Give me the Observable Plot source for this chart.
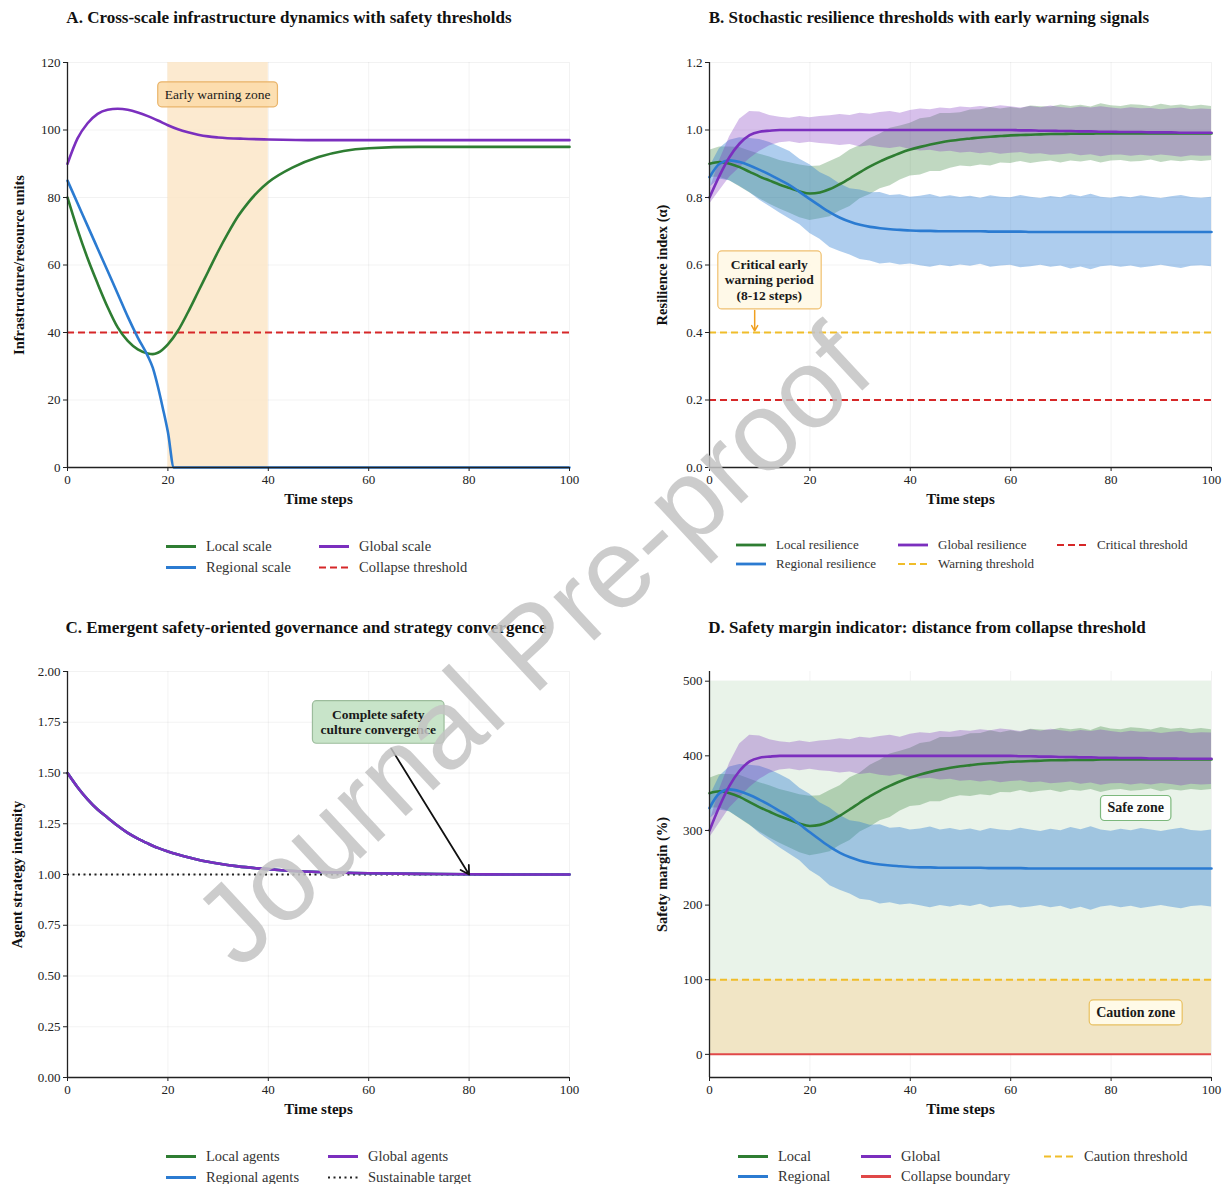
<!DOCTYPE html>
<html><head><meta charset="utf-8">
<script src="https://cdn.jsdelivr.net/npm/d3@7"></script>
<script src="https://cdn.jsdelivr.net/npm/@observablehq/plot@0.6"></script>
<style>
body{margin:0;background:#fff;font-family:"Liberation Serif","Times New Roman",serif;}
#root{position:relative;width:1230px;height:1184px;overflow:hidden;background:#fff;}
.panel{position:absolute;}
.title{position:absolute;font-weight:bold;font-size:17px;white-space:nowrap;transform:translate(-50%,-50%);color:#111;}
.lg{position:absolute;display:flex;align-items:center;white-space:nowrap;transform:translateY(-50%);color:#333;}
.lg svg{margin-right:9px;}
.wm{position:absolute;left:532px;top:645px;transform:translate(-50%,-50%) rotate(-43deg);font-family:"Liberation Sans",Arial,sans-serif;font-size:113px;color:rgba(195,195,195,0.85);white-space:nowrap;pointer-events:none;}
</style></head><body><div id="root"></div>
<script>
const FONT = "Liberation Serif, Times New Roman, serif";
const X_TICKS = [0, 20, 40, 60, 80, 100];
const C = {local:"#2e7d32", regional:"#2b7bd1", global:"#7b2fbe", red:"#d62728", yellow:"#f0bd2a", collapse:"#e04848"};

// ---------- Panel A data ----------
const aLocalX = [0,2,4,6,8,10,12,14,16,17,18,20,22,24,26,28,30,32,34,36,38,40,45,50,55,60,70,80,90,100];
const aLocal  = [80,70.5,62,54.5,47.5,41.5,37.5,35,33.8,33.6,34,36.5,40.5,46,52,58,64,69.5,74.5,78.5,81.8,84.5,89,92,93.8,94.6,95,95,95,95];
const aRegionalX = [0,2,4,6,8,10,12,14,16,17,18,19,20,21.2,22,40,60,80,100];
const aRegional  = [85,78.3,71.6,64.9,58.2,51.5,44.7,38.5,33,29.5,24,17.5,10.5,0,0,0,0,0,0];
const aGlobalX = [0,2,4,6,8,10,12,14,16,18,20,22,24,26,28,30,35,40,50,100];
const aGlobal  = [90,97.5,102,104.8,106,106.3,106,105.2,104.1,102.8,101.4,100.2,99.3,98.6,98.1,97.8,97.4,97.2,97,97];
const aCollapse = 40;
const aWarnZone = [20, 40];

// ---------- Panel B data (resilience, x = 0..100 step 2) ----------
const bX = [0,2,4,6,8,10,12,14,16,18,20,22,24,26,28,30,32,34,36,38,40,42,44,46,48,50,52,54,56,58,60,62,64,66,68,70,72,74,76,78,80,82,84,86,88,90,92,94,96,98,100];
const bLocal = [0.900,0.905,0.900,0.890,0.876,0.862,0.850,0.838,0.828,0.818,0.812,0.815,0.825,0.840,0.857,0.875,0.892,0.907,0.920,0.932,0.942,0.950,0.957,0.963,0.968,0.972,0.975,0.978,0.980,0.982,0.984,0.985,0.986,0.987,0.988,0.988,0.989,0.989,0.989,0.990,0.990,0.990,0.990,0.990,0.990,0.990,0.990,0.990,0.990,0.990,0.990];
const bRegional = [0.860,0.900,0.910,0.905,0.895,0.882,0.868,0.852,0.836,0.816,0.795,0.775,0.756,0.740,0.728,0.719,0.713,0.709,0.706,0.704,0.702,0.701,0.701,0.700,0.700,0.700,0.700,0.700,0.699,0.699,0.699,0.699,0.698,0.698,0.698,0.698,0.698,0.698,0.698,0.698,0.698,0.698,0.698,0.698,0.698,0.698,0.698,0.698,0.698,0.698,0.698];
const bGlobal = [0.800,0.865,0.920,0.960,0.985,0.995,0.998,1,1,1,1,1,1,1,1,1,1,1,1,1,1,1,1,1,1,1,1,1,1,1,1,0.999,0.999,0.998,0.998,0.997,0.997,0.996,0.996,0.995,0.995,0.994,0.994,0.994,0.993,0.993,0.993,0.992,0.992,0.992,0.992];
const bLocalSpread = [0.040,0.045,0.050,0.058,0.062,0.066,0.070,0.072,0.075,0.078,0.080,0.078,0.082,0.080,0.084,0.079,0.083,0.081,0.085,0.080,0.078,0.083,0.080,0.086,0.081,0.079,0.084,0.082,0.087,0.080,0.083,0.078,0.085,0.082,0.080,0.086,0.081,0.084,0.079,0.088,0.082,0.080,0.085,0.083,0.079,0.086,0.081,0.084,0.080,0.083,0.080];
const bRegionalSpread = [0.030,0.045,0.060,0.072,0.080,0.090,0.095,0.098,0.100,0.097,0.102,0.099,0.104,0.100,0.098,0.103,0.101,0.106,0.100,0.104,0.099,0.103,0.108,0.101,0.105,0.100,0.104,0.098,0.106,0.102,0.100,0.107,0.103,0.099,0.105,0.101,0.110,0.104,0.112,0.103,0.100,0.105,0.101,0.107,0.103,0.099,0.104,0.108,0.102,0.100,0.103];
const bGlobalSpread = [0.020,0.045,0.060,0.072,0.070,0.058,0.045,0.038,0.035,0.040,0.036,0.040,0.042,0.046,0.043,0.050,0.047,0.052,0.055,0.050,0.058,0.062,0.060,0.065,0.063,0.068,0.066,0.070,0.067,0.072,0.069,0.066,0.071,0.068,0.073,0.070,0.067,0.072,0.069,0.074,0.070,0.068,0.072,0.069,0.071,0.067,0.070,0.073,0.068,0.070,0.069];
const bCritical = 0.2;
const bWarning = 0.4;

// ---------- Panel C data ----------
const cX = [0,2,4,6,8,10,12,14,16,18,20,22,24,26,28,30,34,38,42,46,50,60,70,80,90,100];
const cGlobal = [1.50,1.43,1.37,1.32,1.28,1.24,1.205,1.177,1.153,1.131,1.113,1.098,1.085,1.073,1.063,1.054,1.040,1.030,1.022,1.016,1.012,1.006,1.003,1.001,1.000,1.000];
const cLocal = cGlobal;     // overlaps global agents
const cRegional = cGlobal;  // overlaps global agents
const cTarget = 1.0;

// ---------- Panel D: safety margin (%) above collapse threshold ----------
const margin = r => (r - bCritical) / bCritical * 100;
const dCaution = 100, dCollapse = 0, dSafeTop = 500;

// ---------- helpers ----------
const pts = (xs, ys) => xs.map((x, i) => ({x, y: ys[i]}));
const band = (xs, m, s, f = v => v) => xs.map((x, i) => ({x, y: f(m[i]), lo: f(m[i] - s[i]), hi: f(m[i] + s[i])}));
const root = document.getElementById("root");

function makePanel(cfg) {
  const plot = Plot.plot({
    width: cfg.width, height: cfg.height,
    marginLeft: cfg.ml, marginRight: cfg.mr, marginTop: cfg.mt, marginBottom: cfg.mb,
    style: {fontFamily: FONT, fontSize: "13px", color: "#222", background: "transparent", overflow: "visible"},
    x: {domain: [0, 100]},
    y: {domain: cfg.yDomain},
    marks: [
      Plot.gridX(X_TICKS, {stroke: "#000", strokeOpacity: 0.05}),
      Plot.gridY(cfg.yTicks, {stroke: "#000", strokeOpacity: 0.05}),
      ...cfg.marks,
      Plot.axisX(X_TICKS, {tickSize: 4, tickPadding: 3, label: null, fontSize: 13}),
      Plot.axisY(cfg.yTicks, {tickSize: 4, tickPadding: 3, label: null, tickFormat: cfg.yFormat, fontSize: 13}),
      Plot.ruleX([0], {stroke: "#222", strokeWidth: 1.3}),
      Plot.ruleY([cfg.yDomain[0]], {stroke: "#222", strokeWidth: 1.3}),
      Plot.text(["Time steps"], {frameAnchor: "bottom", dy: 36, text: d => d, fontWeight: "bold", fontSize: 15, fill: "#111"}),
      Plot.text([cfg.yLabel], {frameAnchor: "left", textAnchor: "middle", dx: cfg.yLabelDx, rotate: -90, text: d => d, fontWeight: "bold", fontSize: 14.5, fill: "#111"})
    ]
  });
  const div = document.createElement("div");
  div.className = "panel";
  div.style.left = cfg.left + "px"; div.style.top = cfg.top + "px";
  div.appendChild(plot);
  root.appendChild(div);
  return plot;
}

function addBox(plot, b) {
  const px = plot.scale("x").apply(b.x), py = plot.scale("y").apply(b.y);
  const g = d3.select(plot).append("g");
  const fs = b.fontSize || 12, lh = fs * 1.15, n = b.lines.length;
  const t = g.append("text").attr("text-anchor", "middle").attr("font-size", fs)
    .attr("font-weight", b.bold ? "bold" : "normal").attr("fill", "#1a1a1a").attr("font-family", FONT);
  b.lines.forEach((l, i) => t.append("tspan").attr("x", px).attr("y", py + (i - (n - 1) / 2) * lh + 0.35 * fs).text(l));
  const bb = t.node().getBBox();
  const padX = b.padX ?? 6, padY = b.padY ?? 4;
  g.insert("rect", "text").attr("x", bb.x - padX).attr("y", bb.y - padY)
    .attr("width", bb.width + 2 * padX).attr("height", bb.height + 2 * padY)
    .attr("rx", 4).attr("fill", b.fill).attr("fill-opacity", b.fillOpacity ?? 1)
    .attr("stroke", b.stroke).attr("stroke-width", 1.2);
}

function legend(items, fontSize) {
  items.forEach(it => {
    const d = document.createElement("div");
    d.className = "lg";
    d.style.left = it.left + "px"; d.style.top = it.top + "px"; d.style.fontSize = fontSize + "px";
    d.innerHTML = `<svg width="32" height="8"><line x1="1" y1="4" x2="31" y2="4" stroke="${it.color}" stroke-width="${it.w || 2.8}" ${it.dash ? `stroke-dasharray="${it.dash}"` : ""}/></svg><span>${it.label}</span>`;
    root.appendChild(d);
  });
}

function title(text, cx, cy) {
  const d = document.createElement("div");
  d.className = "title"; d.textContent = text;
  d.style.left = cx + "px"; d.style.top = cy + "px";
  root.appendChild(d);
}

// ---------- Panel A ----------
title("A. Cross-scale infrastructure dynamics with safety thresholds", 289, 18);
const pA = makePanel({
  left: 0, top: 40, width: 615, height: 477, ml: 67, mr: 46, mt: 22, mb: 50,
  yDomain: [0, 120], yTicks: [0, 20, 40, 60, 80, 100, 120],
  yLabel: "Infrastructure/resource units", yLabelDx: -48,
  marks: [
    Plot.rect([aWarnZone], {x1: d => d[0], x2: d => d[1], y1: 0, y2: 120, fill: "#fbe6c8", fillOpacity: 0.85}),
    Plot.ruleY([aCollapse], {stroke: C.red, strokeWidth: 2, strokeDasharray: "7,4"}),
    Plot.line(pts(aLocalX, aLocal), {x: "x", y: "y", stroke: C.local, strokeWidth: 2.6, curve: "monotone-x"}),
    Plot.line(pts(aRegionalX, aRegional), {x: "x", y: "y", stroke: C.regional, strokeWidth: 2.6, curve: "monotone-x"}),
    Plot.line(pts(aGlobalX, aGlobal), {x: "x", y: "y", stroke: C.global, strokeWidth: 2.6, curve: "monotone-x"})
  ]
});
addBox(pA, {x: 30, y: 110.5, lines: ["Early warning zone"], fill: "#fcdcaa", fillOpacity: 0.9, stroke: "#e9b46a", fontSize: 13.5, padX: 7, padY: 5});
legend([
  {left: 165, top: 546, color: C.local, label: "Local scale"},
  {left: 165, top: 567, color: C.regional, label: "Regional scale"},
  {left: 318, top: 546, color: C.global, label: "Global scale"},
  {left: 318, top: 567, color: C.red, label: "Collapse threshold", dash: "7,4", w: 2}
], 14.5);

// ---------- Panel B ----------
title("B. Stochastic resilience thresholds with early warning signals", 929, 18);
const bL = band(bX, bLocal, bLocalSpread), bR = band(bX, bRegional, bRegionalSpread), bG = band(bX, bGlobal, bGlobalSpread);
const pB = makePanel({
  left: 615, top: 40, width: 615, height: 477, ml: 94, mr: 19, mt: 22, mb: 50,
  yDomain: [0, 1.2], yTicks: [0, 0.2, 0.4, 0.6, 0.8, 1.0, 1.2], yFormat: d3.format(".1f"),
  yLabel: "Resilience index (α)", yLabelDx: -47,
  marks: [
    Plot.areaY(bL, {x: "x", y1: "lo", y2: "hi", fill: C.local, fillOpacity: 0.3}),
    Plot.areaY(bR, {x: "x", y1: "lo", y2: "hi", fill: C.regional, fillOpacity: 0.38}),
    Plot.areaY(bG, {x: "x", y1: "lo", y2: "hi", fill: C.global, fillOpacity: 0.3}),
    Plot.ruleY([bCritical], {stroke: C.red, strokeWidth: 2, strokeDasharray: "7,4"}),
    Plot.ruleY([bWarning], {stroke: C.yellow, strokeWidth: 2, strokeDasharray: "7,4"}),
    Plot.line(bL, {x: "x", y: "y", stroke: C.local, strokeWidth: 2.6, curve: "monotone-x"}),
    Plot.line(bR, {x: "x", y: "y", stroke: C.regional, strokeWidth: 2.6, curve: "monotone-x"}),
    Plot.line(bG, {x: "x", y: "y", stroke: C.global, strokeWidth: 2.6, curve: "monotone-x"}),
    Plot.arrow([{x1: 9, y1: 0.465, x2: 9, y2: 0.405}], {x1: "x1", y1: "y1", x2: "x2", y2: "y2", stroke: "#f0a020", strokeWidth: 1.5, headLength: 6})
  ]
});
addBox(pB, {x: 12, y: 0.555, lines: ["Critical early", "warning period", "(8-12 steps)"], bold: true, fill: "#fff8e6", fillOpacity: 0.9, stroke: "#f0c070", fontSize: 13.5, padX: 7, padY: 6});
legend([
  {left: 735, top: 545, color: C.local, label: "Local resilience"},
  {left: 735, top: 564, color: C.regional, label: "Regional resilience"},
  {left: 897, top: 545, color: C.global, label: "Global resilience"},
  {left: 897, top: 564, color: C.yellow, label: "Warning threshold", dash: "7,4", w: 2},
  {left: 1056, top: 545, color: C.red, label: "Critical threshold", dash: "7,4", w: 2}
], 13);

// ---------- Panel C ----------
title("C. Emergent safety-oriented governance and strategy convergence", 306, 628);
const pC = makePanel({
  left: 0, top: 650, width: 615, height: 477, ml: 67, mr: 46, mt: 21, mb: 50,
  yDomain: [0, 2], yTicks: [0, 0.25, 0.5, 0.75, 1, 1.25, 1.5, 1.75, 2], yFormat: d3.format(".2f"),
  yLabel: "Agent strategy intensity", yLabelDx: -50,
  marks: [
    Plot.ruleY([cTarget], {stroke: "#222", strokeWidth: 1.8, strokeDasharray: "2,3.5"}),
    Plot.line(pts(cX, cLocal), {x: "x", y: "y", stroke: C.local, strokeWidth: 2.6, curve: "monotone-x"}),
    Plot.line(pts(cX, cRegional), {x: "x", y: "y", stroke: C.regional, strokeWidth: 2.6, curve: "monotone-x"}),
    Plot.line(pts(cX, cGlobal), {x: "x", y: "y", stroke: C.global, strokeWidth: 2.6, curve: "monotone-x"}),
    Plot.arrow([{x1: 64.5, y1: 1.62, x2: 80, y2: 1.0}], {x1: "x1", y1: "y1", x2: "x2", y2: "y2", stroke: "#111", strokeWidth: 1.8, headLength: 8})
  ]
});
addBox(pC, {x: 62, y: 1.75, lines: ["Complete safety", "culture convergence"], bold: true, fill: "#c5e3c6", fillOpacity: 0.95, stroke: "#9cbc9c", fontSize: 13.5, padX: 8, padY: 6});
legend([
  {left: 165, top: 1156, color: C.local, label: "Local agents"},
  {left: 165, top: 1177, color: C.regional, label: "Regional agents"},
  {left: 327, top: 1156, color: C.global, label: "Global agents"},
  {left: 327, top: 1177, color: "#222", label: "Sustainable target", dash: "2,3.5", w: 2}
], 14.5);

// ---------- Panel D ----------
title("D. Safety margin indicator: distance from collapse threshold", 927, 628);
const dL = band(bX, bLocal, bLocalSpread, margin), dR = band(bX, bRegional, bRegionalSpread, margin), dG = band(bX, bGlobal, bGlobalSpread, margin);
const pD = makePanel({
  left: 615, top: 650, width: 615, height: 477, ml: 94, mr: 19, mt: 21, mb: 50,
  yDomain: [-31, 513], yTicks: [0, 100, 200, 300, 400, 500],
  yLabel: "Safety margin (%)", yLabelDx: -47,
  marks: [
    Plot.rect([{lo: dCaution, hi: dSafeTop}], {x1: 0, x2: 100, y1: "lo", y2: "hi", fill: "#e9f3e9"}),
    Plot.rect([{lo: dCollapse, hi: dCaution}], {x1: 0, x2: 100, y1: "lo", y2: "hi", fill: "#f1e5c5"}),
    Plot.areaY(dL, {x: "x", y1: "lo", y2: "hi", fill: C.local, fillOpacity: 0.3}),
    Plot.areaY(dR, {x: "x", y1: "lo", y2: "hi", fill: C.regional, fillOpacity: 0.38}),
    Plot.areaY(dG, {x: "x", y1: "lo", y2: "hi", fill: C.global, fillOpacity: 0.3}),
    Plot.ruleY([dCaution], {stroke: C.yellow, strokeWidth: 2, strokeDasharray: "7,4"}),
    Plot.ruleY([dCollapse], {stroke: C.collapse, strokeWidth: 2}),
    Plot.line(dL, {x: "x", y: "y", stroke: C.local, strokeWidth: 2.6, curve: "monotone-x"}),
    Plot.line(dR, {x: "x", y: "y", stroke: C.regional, strokeWidth: 2.6, curve: "monotone-x"}),
    Plot.line(dG, {x: "x", y: "y", stroke: C.global, strokeWidth: 2.6, curve: "monotone-x"})
  ]
});
addBox(pD, {x: 85, y: 330, lines: ["Safe zone"], bold: true, fill: "#ffffff", fillOpacity: 0.9, stroke: "#7cb87c", fontSize: 14, padX: 7, padY: 5});
addBox(pD, {x: 85, y: 56, lines: ["Caution zone"], bold: true, fill: "#fffbea", fillOpacity: 0.95, stroke: "#e8c060", fontSize: 14, padX: 7, padY: 5});
legend([
  {left: 737, top: 1156, color: C.local, label: "Local"},
  {left: 737, top: 1176, color: C.regional, label: "Regional"},
  {left: 860, top: 1156, color: C.global, label: "Global"},
  {left: 860, top: 1176, color: C.collapse, label: "Collapse boundary"},
  {left: 1043, top: 1156, color: C.yellow, label: "Caution threshold", dash: "7,4", w: 2}
], 14.5);

// watermark
const wm = document.createElement("div");
wm.className = "wm"; wm.textContent = "Journal Pre-proof";
root.appendChild(wm);
</script></body></html>
